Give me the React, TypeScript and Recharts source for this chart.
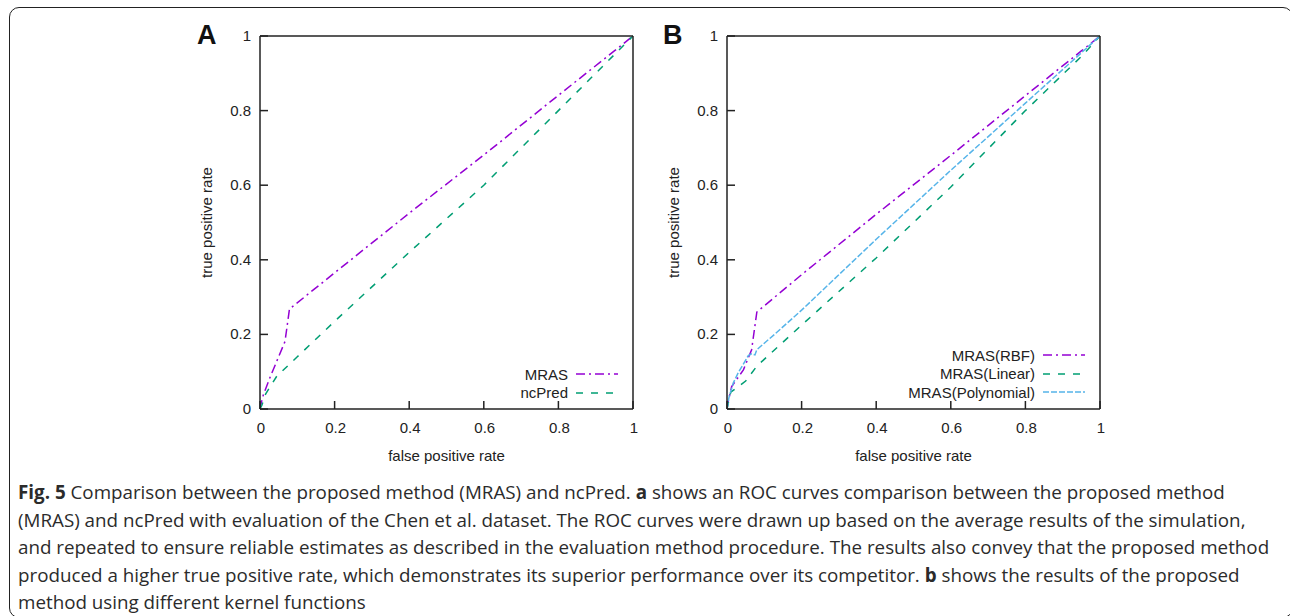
import React from 'react';
import { LineChart, Line, XAxis, YAxis, Legend } from 'recharts';

// Panel A – ROC curves (false positive rate, true positive rate)
const fprMras = [0, 0.002, 0.009, 0.027, 0.067, 0.079, 0.2, 0.4, 0.6, 0.8, 0.95, 1];
const tprMras = [0, 0.011, 0.038, 0.085, 0.181, 0.268, 0.365, 0.525, 0.681, 0.841, 0.96, 1];
const fprNcPred = [0, 0.005, 0.015, 0.045, 0.1, 0.2, 0.4, 0.6, 0.8, 0.95, 1];
const tprNcPred = [0, 0.01, 0.04, 0.088, 0.14, 0.235, 0.42, 0.6, 0.8, 0.95, 1];

// Panel B – kernel functions
const fprRbf = [0, 0.002, 0.0125, 0.044, 0.066, 0.08, 0.2, 0.4, 0.6, 0.8, 0.95, 1];
const tprRbf = [0, 0.015, 0.06, 0.105, 0.159, 0.26, 0.36, 0.522, 0.68, 0.84, 0.96, 1];
const fprLinear = [0, 0.01, 0.05, 0.08, 0.2, 0.4, 0.6, 0.8, 0.95, 1];
const tprLinear = [0, 0.045, 0.075, 0.115, 0.225, 0.405, 0.595, 0.8, 0.945, 1];
const fprPoly = [0, 0.005, 0.017, 0.03, 0.057, 0.066, 0.075, 0.08, 0.133, 0.2, 0.4, 0.6, 0.8, 0.95, 1];
const tprPoly = [0, 0.03, 0.07, 0.097, 0.143, 0.148, 0.145, 0.159, 0.205, 0.265, 0.455, 0.64, 0.82, 0.955, 1];

const axisTicks = [0, 0.2, 0.4, 0.6, 0.8, 1];
const mirrorTicks = [0.2, 0.4, 0.6, 0.8];

// even entries bold, odd entries regular
const captionLines = [
  ['Fig. 5', ' Comparison between the proposed method (MRAS) and ncPred. ', 'a', ' shows an ROC curves comparison between the proposed method'],
  ['', '(MRAS) and ncPred with evaluation of the Chen et al. dataset. The ROC curves were drawn up based on the average results of the simulation,'],
  ['', 'and repeated to ensure reliable estimates as described in the evaluation method procedure. The results also convey that the proposed method'],
  ['', 'produced a higher true positive rate, which demonstrates its superior performance over its competitor. ', 'b', ' shows the results of the proposed'],
  ['', 'method using different kernel functions'],
];

const PURPLE = '#9400d3';
const GREEN = '#009e73';
const BLUE = '#56b4e9';
const INK = '#222';
const FONT = '"Liberation Sans", Arial, sans-serif';

const toPoints = (xs: number[], ys: number[]) => xs.map((x, i) => ({ fpr: x, tpr: ys[i] }));

interface Series {
  name: string;
  color: string;
  dash: string;
  points: { fpr: number; tpr: number }[];
}

const panelA: Series[] = [
  { name: 'MRAS', color: PURPLE, dash: '9 4 2 4', points: toPoints(fprMras, tprMras) },
  { name: 'ncPred', color: GREEN, dash: '7 8', points: toPoints(fprNcPred, tprNcPred) },
];

const panelB: Series[] = [
  { name: 'MRAS(RBF)', color: PURPLE, dash: '9 4 2 4', points: toPoints(fprRbf, tprRbf) },
  { name: 'MRAS(Linear)', color: GREEN, dash: '7 8', points: toPoints(fprLinear, tprLinear) },
  { name: 'MRAS(Polynomial)', color: BLUE, dash: '6 2', points: toPoints(fprPoly, tprPoly) },
];

// gnuplot style: ticks point inward, mirrored on top and right
const BottomTick = ({ x, y, payload }: any) => (
  <g>
    <line x1={x} y1={y} x2={x} y2={y - 8} stroke={INK} strokeWidth={1.5} />
    <text x={x + 1} y={y + 24} textAnchor="middle" fill={INK} fontSize={15} fontFamily={FONT}>
      {String(payload.value)}
    </text>
  </g>
);

const LeftTick = ({ x, y, payload }: any) => (
  <g>
    <line x1={x} y1={y} x2={x + 8} y2={y} stroke={INK} strokeWidth={1.5} />
    <text x={x - 9} y={y + 5} textAnchor="end" fill={INK} fontSize={15} fontFamily={FONT}>
      {String(payload.value)}
    </text>
  </g>
);

const TopTick = ({ x, y }: any) => <line x1={x} y1={y} x2={x} y2={y + 8} stroke={INK} strokeWidth={1.5} />;
const RightTick = ({ x, y }: any) => <line x1={x} y1={y} x2={x - 8} y2={y} stroke={INK} strokeWidth={1.5} />;

// keep the plotting order, not the alphabetical one
const makeLegend = (series: Series[]) => ({ payload }: any) => (
  <div style={{ fontFamily: FONT, fontSize: 15, color: INK }}>
    {series.map((s) => {
      const entry = (payload || []).find((it: any) => it.value === s.name);
      if (!entry) return null;
      return (
        <div
          key={s.name}
          style={{ display: 'flex', justifyContent: 'flex-end', alignItems: 'center', height: 18.5 }}
        >
          <span style={{ whiteSpace: 'nowrap' }}>{entry.value}</span>
          <svg width={42} height={6} style={{ marginLeft: 8 }}>
            <line x1={0} y1={3} x2={42} y2={3} stroke={entry.color} strokeWidth={1.5} strokeDasharray={s.dash} />
          </svg>
        </div>
      );
    })}
  </div>
);

const XTitle = ({ viewBox }: any) => (
  <text
    x={viewBox.x + viewBox.width / 2}
    y={viewBox.y + 52}
    textAnchor="middle"
    fill={INK}
    fontSize={15}
    fontFamily={FONT}
  >
    false positive rate
  </text>
);

const YTitle = ({ viewBox }: any) => {
  const cx = viewBox.x + 26;
  const cy = viewBox.y + viewBox.height / 2;
  return (
    <text
      x={cx}
      y={cy}
      transform={`rotate(-90 ${cx} ${cy})`}
      textAnchor="middle"
      dominantBaseline="central"
      fill={INK}
      fontSize={15}
      fontFamily={FONT}
    >
      true positive rate
    </text>
  );
};

const Panel: React.FC<{ series: Series[]; legendTop: number; left: number; letter: string; letterLeft: number }> = ({
  series,
  legendTop,
  left,
  letter,
  letterLeft,
}) => (
  <div style={{ position: 'absolute', left, top: 20 }}>
    <div
      style={{
        position: 'absolute',
        left: letterLeft,
        top: 0,
        fontFamily: FONT,
        fontWeight: 'bold',
        fontSize: 27,
        color: '#111',
        zIndex: 2,
      }}
    >
      {letter}
    </div>
    <LineChart width={463} height={449} margin={{ top: 0, right: 0, bottom: 0, left: 0 }}>
      <XAxis
        xAxisId="bottom"
        type="number"
        dataKey="fpr"
        domain={[0, 1]}
        ticks={axisTicks}
        interval={0}
        height={60}
        tickSize={0}
        tickMargin={0}
        tick={<BottomTick />}
        axisLine={{ stroke: INK, strokeWidth: 1.5 }}
        label={<XTitle />}
        allowDataOverflow
      />
      <XAxis
        xAxisId="top"
        orientation="top"
        type="number"
        dataKey="fpr"
        domain={[0, 1]}
        ticks={mirrorTicks}
        interval={0}
        height={16}
        tickSize={0}
        tickMargin={0}
        tick={<TopTick />}
        axisLine={{ stroke: INK, strokeWidth: 1.5 }}
      />
      <YAxis
        yAxisId="left"
        type="number"
        domain={[0, 1]}
        ticks={axisTicks}
        interval={0}
        width={80}
        tickSize={0}
        tickMargin={0}
        tick={<LeftTick />}
        axisLine={{ stroke: INK, strokeWidth: 1.5 }}
        label={<YTitle />}
      />
      <YAxis
        yAxisId="right"
        orientation="right"
        type="number"
        domain={[0, 1]}
        ticks={mirrorTicks}
        interval={0}
        width={10}
        tickSize={0}
        tickMargin={0}
        tick={<RightTick />}
        axisLine={{ stroke: INK, strokeWidth: 1.5 }}
      />
      <Legend
        layout="horizontal"
        verticalAlign="middle"
        align="center"
        content={makeLegend(series)}
        wrapperStyle={{ top: legendTop, left: 188, width: 250, bottom: 'auto' }}
      />
      {series.map((s) => (
        <Line
          key={s.name}
          xAxisId="bottom"
          yAxisId="left"
          data={s.points}
          dataKey="tpr"
          name={s.name}
          type="linear"
          stroke={s.color}
          strokeWidth={1.5}
          strokeDasharray={s.dash}
          dot={false}
          activeDot={false}
          isAnimationActive={false}
        />
      ))}
    </LineChart>
  </div>
);

export default function App() {
  return (
    <div
      style={{
        position: 'absolute',
        left: 0,
        top: 0,
        width: 1290,
        height: 616,
        overflow: 'hidden',
        background: '#fff',
      }}
    >
      <div
        style={{
          position: 'absolute',
          left: 9,
          top: 7,
          width: 1282,
          height: 609,
          border: '1.5px solid #222',
          borderRadius: 10,
        }}
      />
      <Panel series={panelA} legendTop={345} left={180} letter="A" letterLeft={17} />
      <Panel series={panelB} legendTop={326} left={647} letter="B" letterLeft={16} />
      <div
        style={{
          position: 'absolute',
          left: 18,
          top: 479,
          fontFamily: '"Open Sans", sans-serif',
          fontSize: 18.8,
          lineHeight: '27.5px',
          color: '#2b2b2b',
        }}
      >
        {captionLines.map((parts, i) => (
          <div key={i} style={{ whiteSpace: 'nowrap' }}>
            {parts.map((p, j) =>
              j % 2 === 0 ? (
                <b key={j}>{p}</b>
              ) : (
                <span key={j}>{p}</span>
              )
            )}
          </div>
        ))}
      </div>
    </div>
  );
}
